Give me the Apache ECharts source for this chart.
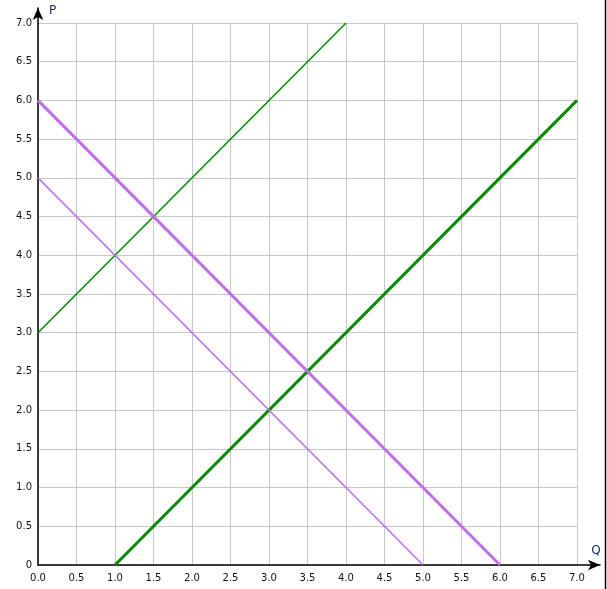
<!DOCTYPE html>
<html><head><meta charset="utf-8">
<script src="https://cdn.jsdelivr.net/npm/echarts@6/dist/echarts.min.js"></script>
<style>html,body{margin:0;padding:0;background:#fff}#c{width:607px;height:589px}</style>
</head><body><div id="c"></div>
<script>
const xTicks = [0,0.5,1,1.5,2,2.5,3,3.5,4,4.5,5,5.5,6,6.5,7];
const supplyThin = [[0,3],[4,7]];
const supplyThick = [[1,0],[7,6]];
const demandThick = [[0,6],[6,0]];
const demandThin = [[0,5],[5,0]];
const xName = 'Q', yName = 'P';

const chart = echarts.init(document.getElementById('c'), null, {renderer:'canvas'});
const font = 'Verdana, "DejaVu Sans", sans-serif';
const lbl = {color:'#111', fontSize:10, fontFamily:font};
chart.setOption({
  animation:false,
  grid:[
    {left:38, right:30, top:23, bottom:24},
    {left:38, right:7, top:8, bottom:24}
  ],
  xAxis:[
    {gridIndex:0, type:'value', min:0, max:7, interval:0.5,
     axisLine:{show:false}, axisTick:{show:false},
     axisLabel:Object.assign({formatter:v=>v.toFixed(1), margin:8}, lbl),
     splitLine:{lineStyle:{color:'#c8c8c8', width:1}}},
    {gridIndex:1, type:'value', min:0, max:1, axisLabel:{show:false}, axisTick:{show:false}, splitLine:{show:false},
     axisLine:{show:true, lineStyle:{color:'#000', width:1.5}, symbol:['none','arrow'], symbolSize:[8,12]},
     name:xName, nameLocation:'end', nameGap:-4, nameTextStyle:{color:'#1a2a6a', fontSize:12, fontFamily:font, verticalAlign:'bottom', align:'center', padding:[0,0,8,0]}}
  ],
  yAxis:[
    {gridIndex:0, type:'value', min:0, max:7, interval:0.5,
     axisLine:{show:false}, axisTick:{show:false},
     axisLabel:Object.assign({formatter:v=>v===0?'0':v.toFixed(1), margin:6}, lbl),
     splitLine:{lineStyle:{color:'#c8c8c8', width:1}}},
    {gridIndex:1, type:'value', min:0, max:1, axisLabel:{show:false}, axisTick:{show:false}, splitLine:{show:false},
     axisLine:{show:true, lineStyle:{color:'#000', width:1.5}, symbol:['none','arrow'], symbolSize:[8,12]},
     name:yName, nameLocation:'end', nameGap:-3, nameTextStyle:{color:'#1a2a6a', fontSize:12, fontFamily:font, align:'left', verticalAlign:'middle', padding:[0,0,0,11]}}
  ],
  series:[
    {type:'line', xAxisIndex:0, yAxisIndex:0, data:supplyThin, symbol:'none', lineStyle:{color:'#008a00', width:1.5}},
    {type:'line', xAxisIndex:0, yAxisIndex:0, data:supplyThick, symbol:'none', lineStyle:{color:'#008a00', width:3}},
    {type:'line', xAxisIndex:0, yAxisIndex:0, data:demandThick, symbol:'none', lineStyle:{color:'#bf6fe8', width:3}},
    {type:'line', xAxisIndex:0, yAxisIndex:0, data:demandThin, symbol:'none', lineStyle:{color:'#bf6fe8', width:1.5}}
  ],
  graphic:[
    {type:'line', shape:{x1:605.5, y1:0, x2:605.5, y2:589}, style:{stroke:'#000', lineWidth:1.5}}
  ]
});
</script></body></html>
